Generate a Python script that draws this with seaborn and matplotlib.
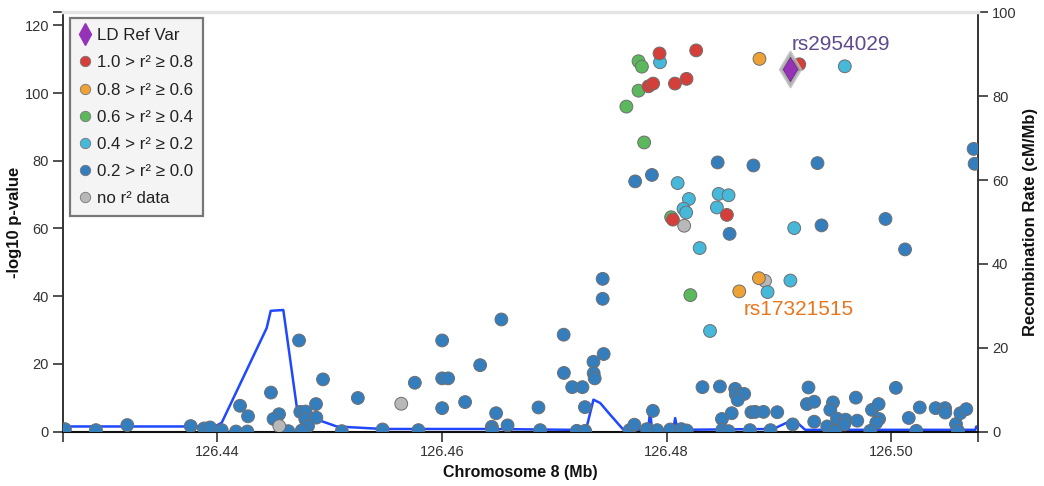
import seaborn as sns
import matplotlib.pyplot as plt
import pandas as pd
from matplotlib.lines import Line2D

# LD bins, colours (LocusZoom style)
ld_labels = ["1.0 > r\u00b2 \u2265 0.8", "0.8 > r\u00b2 \u2265 0.6", "0.6 > r\u00b2 \u2265 0.4",
             "0.4 > r\u00b2 \u2265 0.2", "0.2 > r\u00b2 \u2265 0.0", "no r\u00b2 data"]
ld_colors = ["#d43f3a", "#eea236", "#5cb85c", "#46b8da", "#357ebd", "#b8b8b8"]

# variant positions (Mb) and -log10 p, per LD bin
red_pos = [126.47937, 126.48263, 126.49180, 126.47839, 126.47880, 126.48074, 126.48177, 126.48056, 126.48536]
red_logp = [111.7, 112.6, 108.5, 102.0, 102.8, 102.8, 104.2, 62.6, 64.0]

orange_pos = [126.48826, 126.48821, 126.48646]
orange_logp = [110.1, 45.3, 41.4]

green_pos = [126.47750, 126.47780, 126.47750, 126.47642, 126.47800, 126.48040, 126.48211]
green_logp = [109.4, 107.8, 100.7, 96.0, 85.4, 63.3, 40.3]

cyan_pos = [126.47941, 126.49585, 126.48098, 126.48198, 126.48463, 126.48551, 126.48150,
            126.48174, 126.48447, 126.49135, 126.48294, 126.49101, 126.48898, 126.48386]
cyan_logp = [109.1, 107.9, 73.4, 68.7, 70.2, 69.8, 65.8, 64.7, 66.2, 60.1, 54.2, 44.6, 41.2, 29.7]

blue_pos = [126.48454, 126.48772, 126.49342, 126.47720, 126.47869, 126.48560, 126.49378, 126.49947, 126.50121, 126.50731,
            126.50740, 126.47431, 126.47431, 126.47084, 126.46530, 126.46003, 126.44730, 126.47440, 126.47349, 126.46341,
            126.47351, 126.47360, 126.47086, 126.44943, 126.46003, 126.46056, 126.45760, 126.47160, 126.47251, 126.44480,
            126.45253, 126.46207, 126.44881, 126.44205, 126.46003, 126.46860, 126.47273, 126.46483, 126.44276, 126.44552,
            126.44503, 126.44741, 126.44788, 126.44786, 126.44884, 126.44810, 126.44754, 126.44596, 126.44635, 126.42647,
            126.42923, 126.43202, 126.43766, 126.43884, 126.43938, 126.44042, 126.44169, 126.44270, 126.45110, 126.45473,
            126.45792, 126.46445, 126.46585, 126.46450, 126.46875, 126.47201, 126.47275, 126.47670, 126.47713, 126.47824,
            126.47878, 126.47916, 126.48032, 126.48130, 126.48179, 126.48319, 126.48474, 126.48610, 126.48615, 126.48690,
            126.48632, 126.48579, 126.48492, 126.48754, 126.48788, 126.48862, 126.48984, 126.48495, 126.48551, 126.48741,
            126.48924, 126.49122, 126.49262, 126.49248, 126.49313, 126.49313, 126.49429, 126.49480, 126.49456, 126.49516,
            126.49592, 126.49580, 126.49500, 126.49683, 126.49696, 126.49827, 126.49886, 126.49890, 126.49865, 126.49812,
            126.50039, 126.50154, 126.50252, 126.50221, 126.50393, 126.50477, 126.50479, 126.50574, 126.50613, 126.50666,
            126.50592]
blue_logp = [79.5, 78.6, 79.3, 73.9, 75.8, 58.4, 60.9, 62.8, 53.8, 83.5,
             79.1, 45.1, 39.2, 28.6, 33.1, 26.9, 26.9, 22.9, 20.6, 19.6,
             17.2, 15.7, 17.3, 15.4, 15.7, 15.7, 14.4, 13.1, 13.1, 11.5,
             9.9, 8.7, 8.1, 7.6, 6.9, 7.1, 7.2, 5.4, 4.5, 5.1,
             3.7, 5.8, 5.9, 3.6, 4.1, 1.6, 0.3, 0.1, 0.1, 0.7,
             0.4, 1.9, 1.6, 0.9, 1.2, 0.4, 0.0, 0.0, 0.1, 0.6,
             0.4, 1.4, 1.8, 0.4, 0.4, 0.2, 0.2, 0.4, 2.0, 0.7,
             6.1, 0.4, 0.6, 0.7, 0.3, 13.1, 13.3, 12.6, 11.0, 11.1,
             9.3, 5.4, 3.7, 5.7, 5.8, 5.8, 5.7, 0.5, 0.1, 0.4,
             0.4, 2.1, 13.0, 8.1, 8.8, 2.9, 1.5, 8.6, 6.4, 3.8,
             3.5, 2.1, 0.2, 10.0, 3.2, 6.4, 8.1, 3.7, 2.6, 0.2,
             12.9, 4.0, 7.1, 0.2, 6.9, 6.9, 5.6, 2.2, 5.4, 6.6,
             0.2]

gray_pos = [126.48156, 126.48875, 126.45639, 126.44554]
gray_logp = [60.8, 44.5, 8.2, 1.6]

# LD reference variant
ref_pos = [126.49100]
ref_logp = [107.0]

# recombination rate (cM/Mb)
rec_pos = [126.4263, 126.43982, 126.44042, 126.44442, 126.44478, 126.44590, 126.44709, 126.44917,
           126.45065, 126.45477, 126.46400, 126.47168, 126.47290, 126.47349, 126.47409, 126.47498,
           126.47616, 126.47836, 126.47854, 126.47869, 126.48058, 126.48076, 126.48097, 126.48948,
           126.49109, 126.49162, 126.49233, 126.50746, 126.50755]
rec_rate = [1.2, 1.2, 2.1, 24.7, 28.8, 29.0, 6.0, 2.6,
            1.2, 0.6, 0.6, 0.4, 1.2, 7.6, 6.8, 4.0,
            0.4, 0.4, 5.2, 0.4, 0.4, 3.2, 0.4, 0.6,
            2.6, 2.1, 0.4, 0.4, 1.2]

x_ticks = [126.44, 126.46, 126.48, 126.50]


def make_frame():
    groups = [(blue_pos, blue_logp), (gray_pos, gray_logp), (cyan_pos, cyan_logp),
              (green_pos, green_logp), (orange_pos, orange_logp), (red_pos, red_logp)]
    names = [ld_labels[4], ld_labels[5], ld_labels[3], ld_labels[2], ld_labels[1], ld_labels[0]]
    frames = []
    for (p, v), n in zip(groups, names):
        frames.append(pd.DataFrame({"pos": p, "logp": v, "ld": n}))
    return pd.concat(frames, ignore_index=True)


def plot_locus():
    sns.set_theme(style="white")
    plt.rcParams["font.family"] = ["Liberation Sans", "DejaVu Sans"]

    df = make_frame()
    palette = dict(zip(ld_labels, ld_colors))

    fig = plt.figure(figsize=(10.44, 4.86), dpi=100)
    ax = fig.add_axes([63 / 1044, 1 - 431.5 / 486, 915 / 1044, 419 / 486])
    ax2 = ax.twinx()

    # recombination line on the right axis, underneath the points
    sns.lineplot(x=rec_pos, y=rec_rate, ax=ax2, color="#1f48ff", linewidth=1.8,
                 estimator=None, sort=False)
    ax.set_zorder(ax2.get_zorder() + 1)
    ax.patch.set_visible(False)

    sns.scatterplot(data=df, x="pos", y="logp", hue="ld", palette=palette, s=85,
                    edgecolor="#6e6e6e", linewidth=0.7, legend=False, ax=ax, zorder=3)
    # LD reference variant: gray halo then purple diamond
    sns.scatterplot(x=ref_pos, y=ref_logp, marker="d", s=330, color="#9a9a9a",
                    edgecolor="#bdbdbd", linewidth=1.5, alpha=0.8, ax=ax, zorder=4)
    sns.scatterplot(x=ref_pos, y=ref_logp, marker="d", s=150, color="#9632b8",
                    edgecolor="#6f2a8a", linewidth=0.6, ax=ax, zorder=5)

    ax.text(126.49109, 112.6, "rs2954029", color="#5e4a8c", fontsize=15, va="baseline")
    ax.text(126.48681, 34.5, "rs17321515", color="#e8761f", fontsize=15, va="baseline")

    ax.set_xlim(126.4263, 126.5077)
    ax.set_ylim(0, 123.8)
    ax2.set_ylim(0, 100)
    ax2.set_xlim(126.4263, 126.5077)

    ax.set_xticks(x_ticks)
    ax.set_xticklabels([f"{t:.2f}" for t in x_ticks])
    ax.set_yticks(range(0, 121, 20))
    ax2.set_yticks(range(0, 101, 20))
    ax.set_xticks([126.4263, 126.5077], minor=True)
    ax.set_yticks([123.8], minor=True)

    for a in (ax, ax2):
        a.tick_params(which="both", direction="out", length=7, width=1.2, color="#333333",
                      labelsize=10.5, labelcolor="#333333", pad=3)
        for s in a.spines.values():
            s.set_visible(False)
    ax.tick_params(axis="x", which="both", bottom=True, top=False)
    ax.tick_params(axis="y", which="both", left=True, right=False)
    ax2.tick_params(axis="y", right=True)

    ax.spines["left"].set_visible(True)
    ax.spines["left"].set_color("#333333")
    ax.spines["left"].set_linewidth(1.4)
    ax.spines["bottom"].set_visible(True)
    ax.spines["bottom"].set_color("#111111")
    ax.spines["bottom"].set_linewidth(1.5)
    ax.spines["top"].set_visible(True)
    ax.spines["top"].set_color("#e4e4e4")
    ax.spines["top"].set_linewidth(2.5)
    ax2.spines["right"].set_visible(True)
    ax2.spines["right"].set_color("#333333")
    ax2.spines["right"].set_linewidth(1.4)

    ax.set_xlabel("Chromosome 8 (Mb)", fontsize=11.5, fontweight="bold", color="#111111")
    ax.set_ylabel("-log10 p-value", fontsize=12, fontweight="bold", color="#111111")
    ax2.set_ylabel("Recombination Rate (cM/Mb)", fontsize=12, fontweight="bold", color="#111111")
    ax.xaxis.set_label_coords(0.5, -0.08)
    ax.yaxis.set_label_coords(-0.045, 0.5)
    ax2.yaxis.set_label_coords(1.049, 0.5)

    handles = [Line2D([], [], marker="d", linestyle="none", markersize=11,
                      markerfacecolor="#9632b8", markeredgecolor="#9632b8")]
    for c in ld_colors:
        handles.append(Line2D([], [], marker="o", linestyle="none", markersize=7.5,
                              markerfacecolor=c, markeredgecolor="#777777", markeredgewidth=0.6))
    leg = ax.legend(handles, ["LD Ref Var"] + ld_labels, loc="upper left",
                    bbox_to_anchor=(0.0077, 0.987), borderaxespad=0, fontsize=12.2,
                    frameon=True, fancybox=False, handlelength=0.6, handletextpad=0.4,
                    borderpad=0.6, labelspacing=0.72)
    leg.get_frame().set_facecolor("#f4f4f4")
    leg.get_frame().set_edgecolor("#777777")
    leg.get_frame().set_linewidth(1.6)
    leg.get_frame().set_alpha(1)
    for t in leg.get_texts():
        t.set_color("#222222")

    fig.savefig("out.png", dpi=100)


if __name__ == "__main__":
    plot_locus()
